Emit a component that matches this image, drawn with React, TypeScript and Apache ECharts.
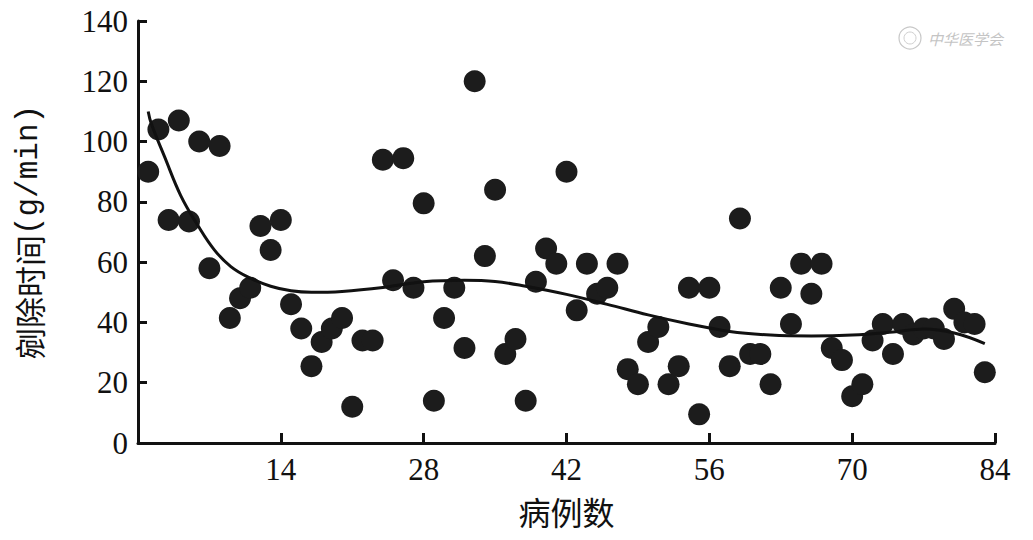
import React, { useEffect, useRef } from "react";
import * as echarts from "echarts";

const caseNumbers = [
  1, 2, 3, 4, 5, 6, 7, 8, 9, 10, 11, 12, 13, 14, 15, 16, 17, 18, 19, 20,
  21, 22, 23, 24, 25, 26, 27, 28, 29, 30, 31, 32, 33, 34, 35, 36, 37, 38, 39, 40,
  41, 42, 43, 44, 45, 46, 47, 48, 49, 50, 51, 52, 53, 54, 55, 56, 57, 58, 59, 60,
  61, 62, 63, 64, 65, 66, 67, 68, 69, 70, 71, 72, 73, 74, 75, 76, 77, 78, 79, 80,
  81, 82, 83,
];

const resectionRates = [
  90, 104, 74, 107, 73.5, 100, 58, 98.5, 41.5, 48, 51.5, 72, 64, 74, 46, 38, 25.5, 33.5, 38, 41.5,
  12, 34, 34, 94, 54, 94.5, 51.5, 79.5, 14, 41.5, 51.5, 31.5, 120, 62, 84, 29.5, 34.5, 14, 53.5, 64.5,
  59.5, 90, 44, 59.5, 49.5, 51.5, 59.5, 24.5, 19.5, 33.5, 38.5, 19.5, 25.5, 51.5, 9.5, 51.5, 38.5, 25.5, 74.5, 29.5,
  29.5, 19.5, 51.5, 39.5, 59.5, 49.5, 59.5, 31.5, 27.5, 15.5, 19.5, 34, 39.5, 29.5, 39.5, 36, 38, 38, 34.5, 44.5,
  40, 39.5, 23.5,
];

const trendX = [1, 1.3, 2.6, 4.2, 5.9, 7.5, 9.1, 10.8, 13, 15, 17, 20, 24, 28, 32, 35, 38, 42, 46, 50, 54, 58, 62, 66, 70, 74, 77, 80, 83];
const trendY = [110, 106, 95, 82, 72, 64, 58.5, 55, 52, 50.5, 50, 50.3, 51.6, 53.5, 54, 53.6, 52, 49.3, 46, 42.5, 39.5, 37, 35.8, 35.5, 35.8, 36.8, 37.8, 36.5, 33];

const xTicks = [0, 14, 28, 42, 56, 70, 84];
const yTicks = [0, 20, 40, 60, 80, 100, 120, 140];

const xAxisTitle = "病例数";
const yAxisTitleCJK = "剜除时间";
const yAxisTitleUnit = "(g/min)";
const watermarkText = "中华医学会";

export default function App() {
  const ref = useRef<HTMLDivElement>(null);

  useEffect(() => {
    document.body.style.margin = "0";
    if (!ref.current) return;
    const chart = echarts.init(ref.current, undefined, { renderer: "svg" });
    const numFont = "'Liberation Serif', 'DejaVu Serif', serif";
    const cjkFont = "'Noto Sans CJK SC', sans-serif";

    chart.setOption({
      animation: false,
      backgroundColor: "#ffffff",
      grid: { left: 138, right: 38, top: 21, bottom: 97, containLabel: false },
      xAxis: {
        type: "value",
        min: xTicks[0],
        max: xTicks[xTicks.length - 1],
        interval: xTicks[1] - xTicks[0],
        splitLine: { show: false },
        axisLine: { show: true, lineStyle: { color: "#111", width: 3 } },
        axisTick: { show: true, inside: true, length: 10, lineStyle: { color: "#111", width: 3 } },
        axisLabel: {
          showMinLabel: false,
          margin: 11,
          color: "#111",
          fontFamily: numFont,
          fontSize: 31,
          lineHeight: 30,
        },
        name: xAxisTitle,
        nameLocation: "middle",
        nameGap: 52,
        nameTextStyle: { fontFamily: cjkFont, fontSize: 32, lineHeight: 32, color: "#111" },
      },
      yAxis: {
        type: "value",
        min: yTicks[0],
        max: yTicks[yTicks.length - 1],
        interval: yTicks[1] - yTicks[0],
        splitLine: { show: false },
        axisLine: { show: true, lineStyle: { color: "#111", width: 3 } },
        axisTick: { show: true, inside: true, length: 9, lineStyle: { color: "#111", width: 3 } },
        axisLabel: {
          margin: 10,
          color: "#111",
          fontFamily: numFont,
          fontSize: 31,
        },
        name: "{a|" + yAxisTitleCJK + "}{b|" + yAxisTitleUnit + "}",
        nameLocation: "middle",
        nameRotate: 90,
        nameGap: 94,
        nameTextStyle: {
          color: "#111",
          rich: {
            a: { fontFamily: cjkFont, fontSize: 31, color: "#111" },
            b: { fontFamily: "'Liberation Mono', 'DejaVu Sans Mono', monospace", fontSize: 31, color: "#111" },
          },
        },
      },
      graphic: [
        {
          type: "circle",
          shape: { cx: 910, cy: 38, r: 11 },
          style: { fill: "none", stroke: "#c8c8c8", lineWidth: 1.2 },
        },
        {
          type: "circle",
          shape: { cx: 910, cy: 38, r: 6 },
          style: { fill: "none", stroke: "#d0d0d0", lineWidth: 1 },
        },
        {
          type: "text",
          x: 928,
          y: 38,
          style: {
            text: watermarkText,
            fill: "#c4c4c4",
            fontFamily: cjkFont,
            fontSize: 15,
            fontStyle: "italic",
            verticalAlign: "middle",
            align: "left",
          },
        },
      ],
      series: [
        {
          type: "scatter",
          data: caseNumbers.map((x, i) => [x, resectionRates[i]]),
          symbol: "circle",
          symbolSize: 22,
          itemStyle: { color: "#1c1c1c", opacity: 1 },
          z: 2,
        },
        {
          type: "line",
          data: trendX.map((x, i) => [x, trendY[i]]),
          smooth: 0.4,
          showSymbol: false,
          symbol: "none",
          lineStyle: { color: "#111", width: 3 },
          z: 3,
        },
      ],
    });

    return () => chart.dispose();
  }, []);

  return <div ref={ref} style={{ width: 1033, height: 540 }} />;
}
